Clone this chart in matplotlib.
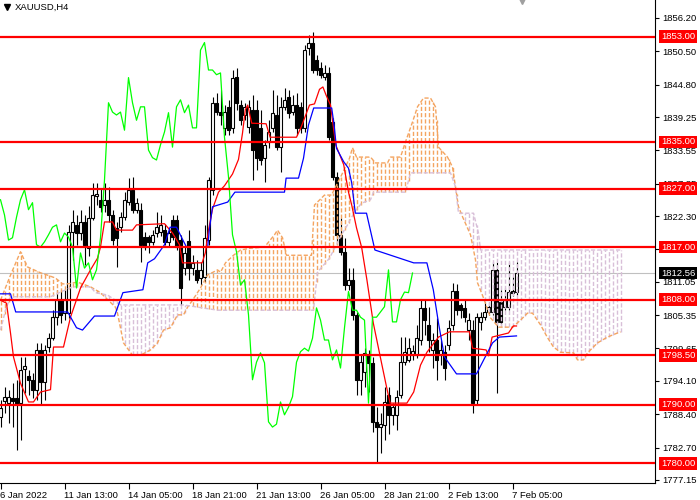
import numpy as np
import matplotlib.pyplot as plt
from matplotlib.transforms import blended_transform_factory

plt.rcParams['font.family'] = ['Liberation Sans', 'DejaVu Sans']

# XAUUSD H4 candles (bar 0 = 6 Jan 2022)
opens = [1787.9, 1790.7, 1790.3, 1791.2, 1791.2, 1790.3, 1796.1, 1795.0, 1794.3, 1792.6,
         1799.4, 1793.9, 1799.9, 1801.4, 1805.0, 1808.0, 1805.7, 1805.7, 1819.6, 1820.8,
         1819.4, 1821.3, 1816.8, 1822.0, 1825.7, 1825.1, 1824.2, 1825.1, 1822.5, 1820.3,
         1820.4, 1822.1, 1824.7, 1826.8, 1823.4, 1823.4, 1818.8, 1818.8, 1817.9, 1819.4,
         1819.6, 1819.9, 1817.9, 1821.6, 1821.6, 1818.2, 1813.4, 1818.0, 1813.4, 1813.1,
         1811.7, 1811.9, 1818.2, 1826.8, 1841.7, 1840.1, 1837.4, 1841.0, 1837.4, 1846.1,
         1841.3, 1839.6, 1837.6, 1840.5, 1840.5, 1837.4, 1832.3, 1835.0, 1837.4, 1839.6,
         1834.1, 1841.0, 1842.7, 1840.1, 1841.3, 1841.0, 1837.4, 1851.1, 1851.9, 1849.0,
         1847.6, 1846.1, 1846.8, 1838.4, 1829.0, 1819.1, 1816.2, 1810.5, 1811.4, 1805.4,
         1794.3, 1795.6, 1798.5, 1797.2, 1787.1, 1786.2, 1786.6, 1791.7, 1788.3, 1788.3,
         1791.7, 1797.3, 1797.7, 1798.5, 1798.5, 1801.1, 1806.6, 1803.7, 1799.4, 1801.1,
         1798.5, 1799.0, 1800.3, 1803.6, 1809.4, 1807.1, 1806.6, 1802.8, 1802.8, 1790.8,
         1804.2, 1805.0, 1805.9, 1805.9, 1813.1, 1807.6, 1806.8, 1806.8, 1809.5, 1809.3]
highs = [1790.8, 1793.1, 1792.6, 1793.7, 1794.3, 1798.2, 1798.2, 1796.0, 1795.5, 1800.6,
         1800.6, 1800.3, 1802.3, 1806.2, 1809.7, 1809.7, 1809.7, 1820.8, 1823.4, 1822.5,
         1823.4, 1822.5, 1824.0, 1828.0, 1828.0, 1827.0, 1828.0, 1827.2, 1823.4, 1821.3,
         1823.0, 1826.4, 1828.8, 1829.0, 1825.4, 1824.5, 1819.6, 1819.1, 1819.9, 1823.0,
         1822.5, 1821.0, 1820.2, 1822.5, 1822.5, 1819.1, 1817.4, 1819.9, 1815.7, 1814.8,
         1814.5, 1820.8, 1829.0, 1842.7, 1843.4, 1843.9, 1841.3, 1842.2, 1847.3, 1847.6,
         1842.2, 1841.7, 1842.2, 1843.0, 1842.2, 1840.5, 1835.3, 1838.7, 1843.9, 1843.0,
         1842.7, 1844.2, 1843.9, 1843.0, 1843.4, 1841.8, 1851.6, 1853.3, 1853.8, 1849.9,
         1848.7, 1848.2, 1847.8, 1839.1, 1829.8, 1822.0, 1818.6, 1813.4, 1813.4, 1805.9,
         1798.5, 1799.7, 1799.4, 1798.2, 1789.6, 1788.6, 1793.1, 1793.1, 1790.3, 1792.6,
         1801.6, 1801.6, 1801.4, 1800.3, 1803.7, 1808.0, 1808.0, 1806.8, 1802.3, 1804.9,
         1801.1, 1800.3, 1804.5, 1810.9, 1810.6, 1807.4, 1808.0, 1805.7, 1804.5, 1805.7,
         1805.9, 1807.6, 1807.6, 1814.5, 1814.5, 1809.7, 1810.0, 1814.5, 1811.9, 1814.5]
lows = [1786.2, 1788.6, 1786.9, 1786.2, 1782.3, 1784.0, 1792.0, 1791.7, 1791.2, 1790.8,
        1790.0, 1790.8, 1799.0, 1801.1, 1803.7, 1804.0, 1804.5, 1804.9, 1814.8, 1817.4,
        1818.2, 1813.9, 1815.5, 1821.6, 1824.2, 1823.0, 1823.0, 1821.3, 1817.4, 1813.6,
        1819.6, 1821.6, 1824.2, 1822.8, 1822.8, 1814.5, 1816.5, 1816.0, 1817.4, 1818.8,
        1818.9, 1817.4, 1817.0, 1818.2, 1816.5, 1807.1, 1812.2, 1811.4, 1812.2, 1810.8,
        1810.5, 1811.0, 1817.4, 1825.9, 1839.6, 1837.9, 1836.2, 1836.2, 1836.5, 1840.5,
        1837.9, 1838.7, 1836.5, 1828.5, 1830.2, 1831.0, 1828.1, 1834.0, 1836.7, 1833.6,
        1829.9, 1840.5, 1839.1, 1839.6, 1836.2, 1836.5, 1836.7, 1849.9, 1846.8, 1846.5,
        1845.9, 1845.6, 1835.3, 1828.5, 1817.9, 1815.7, 1809.7, 1809.7, 1804.5, 1791.7,
        1791.7, 1793.0, 1792.2, 1785.4, 1780.3, 1781.8, 1784.0, 1785.0, 1786.6, 1785.7,
        1791.2, 1796.8, 1797.3, 1797.7, 1798.0, 1800.3, 1802.0, 1799.0, 1796.3, 1794.3,
        1796.8, 1794.3, 1799.4, 1802.8, 1805.4, 1804.9, 1804.2, 1801.1, 1788.6, 1790.0,
        1802.8, 1804.5, 1805.4, 1805.4, 1792.0, 1803.7, 1806.2, 1806.2, 1808.6, 1808.8]
closes = [1789.5, 1791.4, 1791.4, 1790.7, 1790.2, 1796.0, 1796.6, 1794.3, 1792.6, 1799.4,
          1793.9, 1799.4, 1801.4, 1805.0, 1808.0, 1805.4, 1808.0, 1819.6, 1821.3, 1819.4,
          1821.3, 1817.4, 1822.0, 1825.9, 1826.1, 1823.9, 1825.1, 1822.5, 1818.2, 1818.6,
          1822.1, 1825.1, 1826.8, 1823.4, 1824.6, 1817.4, 1817.0, 1817.9, 1819.1, 1820.4,
          1820.8, 1817.9, 1819.4, 1818.7, 1817.0, 1810.0, 1816.0, 1813.4, 1814.3, 1811.4,
          1813.1, 1818.6, 1828.5, 1841.7, 1840.1, 1839.6, 1840.1, 1837.0, 1846.0, 1841.7,
          1838.7, 1841.0, 1841.0, 1833.6, 1832.3, 1831.9, 1834.5, 1836.7, 1840.0, 1834.1,
          1841.0, 1842.2, 1840.0, 1841.3, 1837.4, 1837.4, 1850.7, 1852.0, 1847.3, 1847.3,
          1846.5, 1846.8, 1835.8, 1829.0, 1819.1, 1816.2, 1810.5, 1811.4, 1805.4, 1794.3,
          1797.3, 1798.9, 1797.2, 1787.1, 1786.2, 1786.7, 1790.5, 1788.3, 1789.6, 1791.4,
          1797.3, 1799.1, 1799.7, 1799.2, 1801.4, 1806.6, 1804.5, 1801.1, 1801.1, 1797.7,
          1799.4, 1796.3, 1803.2, 1809.4, 1806.2, 1806.2, 1805.0, 1804.5, 1790.3, 1805.0,
          1805.0, 1805.9, 1806.8, 1813.1, 1804.2, 1804.2, 1808.0, 1809.3, 1809.2, 1812.56]

# Ichimoku lines as (bar, price) break points
tenkan_bars = [0, 1.5, 2.5, 3.25, 5, 7, 8.25, 10, 12.5, 13.25, 15.75, 17.5, 20, 22.5, 24.25,
               25, 26, 28, 29, 33, 34, 41, 43, 44.75, 45.5, 50.4, 51.2, 52, 53, 54.5, 56, 58,
               59.5, 60.5, 61.2, 61.8, 62.8, 66.4, 67.4, 74, 75.2, 77.25, 78.5, 79.75, 80.6,
               81.4, 82.5, 83.8, 85.8, 87, 87.8, 89, 90.3, 91.6, 93.2, 95.25, 96.5, 97.4,
               101.6, 103.3, 105, 106.6, 109.5, 112.25, 117.25, 118, 121.4, 122, 122.9, 127,
               128.2, 129]
tenkan_vals = [1807.9, 1807.4, 1802.3, 1798.2, 1793.7, 1790.5, 1790.5, 1792.2, 1792.6, 1799.9,
               1799.9, 1805.0, 1810.0, 1813.1, 1815.1, 1817.0, 1821.3, 1821.3, 1819.9, 1819.9,
               1820.8, 1821.0, 1819.4, 1817.4, 1814.3, 1814.3, 1816.0, 1819.9, 1823.5, 1826.4,
               1827.5, 1829.5, 1832.0, 1836.5, 1840.5, 1841.3, 1838.2, 1838.1, 1835.8, 1835.8,
               1837.6, 1841.3, 1841.5, 1844.0, 1844.4, 1843.0, 1841.3, 1834.5, 1831.1, 1826.4,
               1824.2, 1820.3, 1816.9, 1811.4, 1804.0, 1797.2, 1793.1, 1790.3, 1790.3, 1792.2,
               1796.8, 1799.0, 1801.6, 1802.5, 1802.5, 1799.7, 1799.4, 1798.4, 1801.6, 1802.3,
               1803.5, 1803.5]
kijun_bars = [0, 2.5, 3.8, 16.8, 19, 20.5, 23.5, 28.5, 30.6, 35.6, 36.8, 38.5, 41, 42.4, 44,
              45.6, 46.5, 51.8, 52.2, 53, 56.8, 58.6, 71, 71.4, 74.5, 75.75, 77, 78.3, 82.8,
              83.4, 84, 85.8, 87, 87.8, 88.7, 91.5, 93.6, 103.3, 106.6, 108.2, 109.5, 111,
              114, 119, 121.4, 123, 124.7, 129]
kijun_vals = [1809.0, 1809.0, 1805.9, 1805.9, 1803.2, 1802.8, 1805.2, 1805.2, 1809.2, 1809.7,
              1814.3, 1815.0, 1817.4, 1820.4, 1820.4, 1818.2, 1817.0, 1817.0, 1819.9, 1823.9,
              1824.7, 1826.4, 1826.4, 1828.8, 1828.8, 1832.2, 1837.9, 1840.8, 1840.8, 1837.9,
              1833.9, 1831.6, 1830.5, 1828.0, 1822.8, 1822.8, 1816.5, 1814.3, 1814.3, 1809.7,
              1804.0, 1798.2, 1795.3, 1795.3, 1798.5, 1800.6, 1801.6, 1801.8]
span_a_bars = [0, 2.5, 5, 6.75, 10, 11.75, 13.75, 15.5, 16.75, 19.25, 22.5, 25, 28.75, 29.25,
               30.75, 33, 35, 37.5, 39.25, 40.75, 42.5, 44.25, 45.75, 46.75, 48, 50, 51.75,
               54.25, 55, 56.25, 58.25, 60, 62.5, 66, 68.5, 69.25, 70.5, 71.5, 77.75, 78.5,
               81, 82.75, 85.25, 87.25, 88, 89, 92.5, 93.75, 96.75, 97.5, 100, 101.25, 103,
               104.25, 105.75, 107.5, 108.75, 109.5, 111.75, 113, 113.75, 114.5, 115.5, 117.5,
               118.75, 119.25, 120.75, 122.5, 124.5, 128, 130, 131.75, 133, 135, 136.75,
               138.25, 140, 143.25, 144.25, 145.75, 146.75, 149.25, 151.75, 154.25, 155]
span_a_vals = [1807.9, 1812.2, 1816.2, 1813.6, 1812.6, 1812.2, 1811.7, 1810.7, 1810.7, 1811.0,
               1810.2, 1809.2, 1806.7, 1805.7, 1800.6, 1798.5, 1798.5, 1799.4, 1800.6, 1802.8,
               1803.2, 1805.4, 1805.4, 1806.7, 1807.9, 1810.0, 1812.2, 1813.1, 1812.7, 1814.3,
               1815.6, 1816.5, 1816.8, 1817.0, 1819.1, 1819.9, 1818.6, 1815.6, 1815.6, 1824.2,
               1825.9, 1825.9, 1829.3, 1832.2, 1834.0, 1832.4, 1832.4, 1831.4, 1831.4, 1832.4,
               1832.4, 1835.0, 1838.4, 1841.0, 1842.5, 1842.5, 1841.0, 1834.1, 1832.4, 1830.7,
               1827.3, 1823.9, 1822.2, 1819.1, 1814.8, 1810.9, 1808.3, 1804.9, 1803.3, 1803.3,
               1804.5, 1805.7, 1805.7, 1803.7, 1801.5, 1799.9, 1799.0, 1798.9, 1797.7, 1797.7,
               1798.9, 1800.6, 1801.6, 1802.3, 1802.5]
span_b_bars = [0, 1.25, 2.5, 12.5, 15, 18, 22.5, 23.75, 26.75, 28.75, 30, 45.75, 54.25, 78.25,
               79.25, 82.25, 85.25, 86.75, 88.5, 90.25, 92.5, 93.25, 101.25, 102.5, 112.5,
               113.75, 114.5, 118.25, 119.5, 120, 155]
span_b_vals = [1802.8, 1806.2, 1808.5, 1808.5, 1809.3, 1810.2, 1810.2, 1809.2, 1808.8, 1807.9,
               1807.1, 1807.1, 1806.2, 1806.2, 1812.7, 1815.1, 1819.1, 1820.8, 1823.0, 1824.5,
               1825.1, 1826.4, 1826.4, 1829.7, 1829.7, 1827.3, 1822.8, 1822.8, 1819.4, 1816.5,
               1816.5]

levels = [1853.0, 1835.0, 1827.0, 1817.0, 1808.0, 1798.5, 1790.0, 1780.0]
last_price = 1812.56
price_ticks = [1856.20, 1850.50, 1844.80, 1839.25, 1833.55, 1827.85, 1822.30, 1816.60,
               1811.05, 1805.35, 1799.65, 1794.10, 1788.40, 1782.70, 1777.15]
date_ticks = [0, 16, 32, 48, 64, 80, 96, 112, 128]
date_labels = ["6 Jan 2022", "11 Jan 13:00", "14 Jan 05:00", "18 Jan 21:00", "21 Jan 13:00",
               "26 Jan 05:00", "28 Jan 21:00", "2 Feb 13:00", "7 Feb 05:00"]
shift = 26

fig = plt.figure(figsize=(7, 5), dpi=100)
ax = fig.add_axes([0, 17 / 500, 655 / 700, 483 / 500])
ax.set_xlim(-0.125, 163.625)
ax.set_ylim(1776.63, 1859.28)

o = np.array(opens)
c = np.array(closes)
x = np.arange(len(o))

# candles
ax.vlines(x, lows, highs, colors='black', lw=0.8, zorder=2)
up = c >= o
ax.bar(x[up], (c - o)[up], bottom=o[up], width=0.55, color='white', edgecolor='black',
       lw=0.8, zorder=2.1)
ax.bar(x[~up], (o - c)[~up], bottom=c[~up], width=0.55, color='black', edgecolor='black',
       lw=0.8, zorder=2.1)

# cloud hatch: one dashed line per bar between the two spans
orange, plum = '#F4A460', '#D8BFD8'
dash = (0, (3, 1.5))
cb = np.arange(0, span_b_bars[-1] + 1)
sa = np.interp(cb, span_a_bars, span_a_vals)
sb = np.interp(cb, span_b_bars, span_b_vals)
bull = sa >= sb
ax.vlines(cb[bull], sb[bull], sa[bull], colors=orange, lw=1.0, linestyles=dash, zorder=3)
ax.vlines(cb[~bull], sa[~bull], sb[~bull], colors=plum, lw=1.0, linestyles=dash, zorder=3)
ax.plot(span_a_bars, span_a_vals, color=orange, lw=1.0, ls=dash, zorder=3)
ax.plot(span_b_bars, span_b_vals, color=plum, lw=1.0, ls=dash, zorder=3)

# tenkan, kijun, chikou
ax.plot(tenkan_bars, tenkan_vals, color='red', lw=0.9, zorder=3.5)
ax.plot(kijun_bars, kijun_vals, color='blue', lw=0.9, zorder=3.5)
ax.plot(x[shift:] - shift, c[shift:], color='#00FF00', lw=0.9, zorder=3.5)

# current price and support / resistance levels
ax.axhline(last_price, color='#C0C0C0', lw=0.8, zorder=1)
for lv in levels:
    ax.axhline(lv, color='red', lw=1.6, zorder=4)

ax.set_yticks(price_ticks)
# 1816.60 sits fully under the 1817.00 box in the original
ax.set_yticklabels(["" if t == 1816.60 else f"{t:.2f}" for t in price_ticks])
ax.yaxis.tick_right()
ax.tick_params(axis='y', length=3, width=0.8, pad=2, labelsize=6.8)
ax.set_xticks(date_ticks)
ax.set_xticklabels(date_labels)
for lab in ax.get_xticklabels():
    lab.set_ha('left')
ax.tick_params(axis='x', length=4, width=0.8, pad=1.5, labelsize=6.8)
for side in ['left', 'top']:
    ax.spines[side].set_visible(False)

trans = blended_transform_factory(ax.transAxes, ax.transData)
for lv in levels:
    ax.text(1.009, lv, f"{lv:.2f}", transform=trans, ha='left', va='center', fontsize=6.8,
            color='white', zorder=6, clip_on=False,
            bbox=dict(boxstyle='square,pad=0.2', fc='red', ec='none'))
ax.text(1.009, last_price, f"{last_price:.2f}", transform=trans, ha='left', va='center',
        fontsize=6.8, color='white', zorder=6, clip_on=False,
        bbox=dict(boxstyle='square,pad=0.2', fc='black', ec='none'))

# header and chart shift marker
ax.plot([0.01], [1 - 7 / 483], marker='v', ms=4, color='black', transform=ax.transAxes,
        clip_on=False)
ax.text(15 / 655, 1 - 7.5 / 483, "XAUUSD,H4", transform=ax.transAxes, ha='left', va='center',
        fontsize=6.8)
ax.plot([130.4], [1859.28], marker='v', ms=6, color='#A0A0A0', clip_on=False, zorder=5)

fig.savefig("out.png", dpi=100)
